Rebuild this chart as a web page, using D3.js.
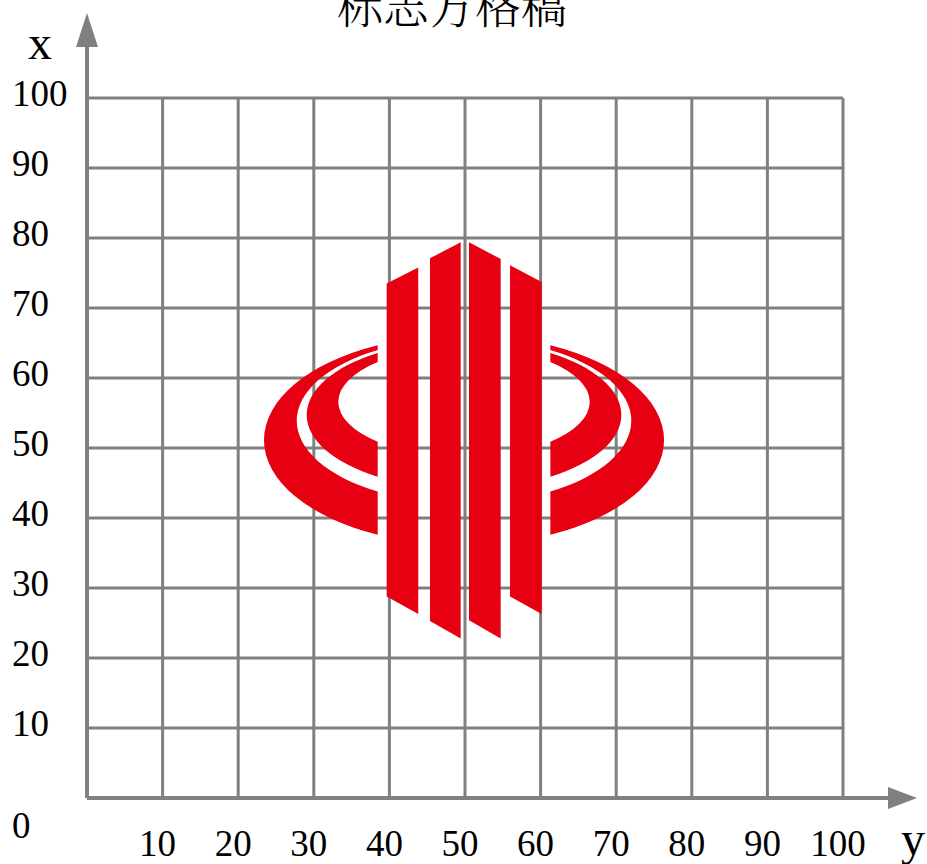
<!DOCTYPE html>
<html>
<head>
<meta charset="utf-8">
<script src="https://cdn.jsdelivr.net/npm/d3@7"></script>
<style>
  body { margin: 0; background: #fff; }
  svg { display: block; }
</style>
</head>
<body>
<div id="chart"></div>
<script>
// grid values (both axes go 0..100 in steps of 10)
var gridTicks = [0, 10, 20, 30, 40, 50, 60, 70, 80, 90, 100];
var leftLabels = [100, 90, 80, 70, 60, 50, 40, 30, 20, 10];
var bottomLabels = [10, 20, 30, 40, 50, 60, 70, 80, 90, 100];

// logo bars, corners: [horizontal, vertical]
var bars = [
    [[39.64, 73.5], [43.82, 75.8], [43.82, 26.3], [39.64, 28.8]],
    [[45.37, 77.1], [49.43, 79.4], [49.43, 22.8], [45.37, 25.3]],
    [[50.53, 79.4], [54.72, 77.0], [54.72, 22.8], [50.53, 25.4]],
    [[55.95, 76.1], [60.14, 73.7], [60.14, 26.3], [55.95, 28.8]]
];

// the crescents: each one lies between an outer and an inner ellipse, cut by a vertical line
var logoCenter = 49.87;
var cutOffset = 11.42;
var crescentOuter = [{cy: 51.14, a: 26.46, b: 15.0}, {cy: 54.74, a: 20.81, b: 10.57}];
var crescentInner = [{cy: 53.89, a: 22.13, b: 11.81}, {cy: 56.59, a: 16.63, b: 7.84}];

var svgWidth = 927;
var svgHeight = 864;

var svg = d3.select("#chart")
    .append("svg")
    .attr("width", svgWidth)
    .attr("height", svgHeight);

var xScale = d3.scaleLinear().domain([0, 100]).range([87, 843]);
var yScale = d3.scaleLinear().domain([0, 100]).range([798, 98]);

var grey = "#808080";
var red = "#e60012";

// grid
var grid = svg.append("g");
grid.selectAll(".vline")
    .data(gridTicks)
    .enter()
    .append("line")
    .attr("x1", d => xScale(d))
    .attr("x2", d => xScale(d))
    .attr("y1", yScale(0))
    .attr("y2", yScale(100))
    .attr("stroke", grey)
    .attr("stroke-width", 3);

grid.selectAll(".hline")
    .data(gridTicks)
    .enter()
    .append("line")
    .attr("x1", xScale(0))
    .attr("x2", xScale(100))
    .attr("y1", d => yScale(d))
    .attr("y2", d => yScale(d))
    .attr("stroke", grey)
    .attr("stroke-width", 3);

// axes with arrows
svg.append("line")
    .attr("x1", xScale(0)).attr("y1", yScale(0))
    .attr("x2", xScale(0)).attr("y2", 40)
    .attr("stroke", grey).attr("stroke-width", 4);
svg.append("path")
    .attr("d", `M${xScale(0)},13 L${xScale(0) - 11},47 L${xScale(0) + 11},47 Z`)
    .attr("fill", grey);

svg.append("line")
    .attr("x1", xScale(0)).attr("y1", yScale(0))
    .attr("x2", 895).attr("y2", yScale(0))
    .attr("stroke", grey).attr("stroke-width", 4);
svg.append("path")
    .attr("d", `M917,${yScale(0)} L888,${yScale(0) - 11} L888,${yScale(0) + 11} Z`)
    .attr("fill", grey);

// logo bars
var logo = svg.append("g");
logo.selectAll(".bar")
    .data(bars)
    .enter()
    .append("polygon")
    .attr("points", d => d.map(p => xScale(p[0]) + "," + yScale(p[1])).join(" "))
    .attr("fill", red);

// where an ellipse meets the cut line
function cutPoints(e, cut) {
    var dx = cut - logoCenter;
    var h = e.b * Math.sqrt(1 - (dx / e.a) * (dx / e.a));
    return {top: e.cy + h, bottom: e.cy - h};
}

function crescentPath(outer, inner, side) {
    var cut = logoCenter + side * cutOffset;
    var o = cutPoints(outer, cut);
    var i = cutPoints(inner, cut);
    var kx = xScale(1) - xScale(0);
    var ky = yScale(0) - yScale(1);
    var sweepO = side < 0 ? 0 : 1;
    var sweepI = 1 - sweepO;
    return "M" + xScale(cut) + "," + yScale(o.top) +
        " A" + (outer.a * kx) + "," + (outer.b * ky) + " 0 0 " + sweepO + " " + xScale(cut) + "," + yScale(o.bottom) +
        " L" + xScale(cut) + "," + yScale(i.bottom) +
        " A" + (inner.a * kx) + "," + (inner.b * ky) + " 0 0 " + sweepI + " " + xScale(cut) + "," + yScale(i.top) +
        " Z";
}

[-1, 1].forEach(function(side) {
    crescentOuter.forEach(function(outer, k) {
        logo.append("path")
            .attr("d", crescentPath(outer, crescentInner[k], side))
            .attr("fill", red);
    });
});

// labels
var labelFont = "'Liberation Serif', 'Times New Roman', serif";

svg.selectAll(".leftLabel")
    .data(leftLabels)
    .enter()
    .append("text")
    .attr("x", 12)
    .attr("y", d => yScale(d) + 8)
    .attr("font-family", labelFont)
    .attr("font-size", 37)
    .attr("fill", "#000")
    .text(d => d);

svg.selectAll(".bottomLabel")
    .data(bottomLabels)
    .enter()
    .append("text")
    .attr("x", d => xScale(d) - 5)
    .attr("y", 856)
    .attr("text-anchor", "middle")
    .attr("font-family", labelFont)
    .attr("font-size", 37)
    .attr("fill", "#000")
    .text(d => d);

svg.append("text")
    .attr("x", 12).attr("y", 838)
    .attr("font-family", labelFont).attr("font-size", 37)
    .text("0");

svg.append("text")
    .attr("x", 40).attr("y", 59)
    .attr("text-anchor", "middle")
    .attr("font-family", labelFont).attr("font-size", 48)
    .text("x");

svg.append("text")
    .attr("x", 913).attr("y", 855)
    .attr("text-anchor", "middle")
    .attr("font-family", labelFont).attr("font-size", 48)
    .text("y");

// title (cut at the top edge, as in the original)
svg.append("text")
    .attr("x", 452).attr("y", 23)
    .attr("text-anchor", "middle")
    .attr("font-family", "'Noto Serif CJK SC', 'Noto Sans CJK SC', serif")
    .attr("font-size", 46)
    .attr("font-weight", 300)
    .attr("fill", "#000")
    .text("标志方格稿");
</script>
</body>
</html>
